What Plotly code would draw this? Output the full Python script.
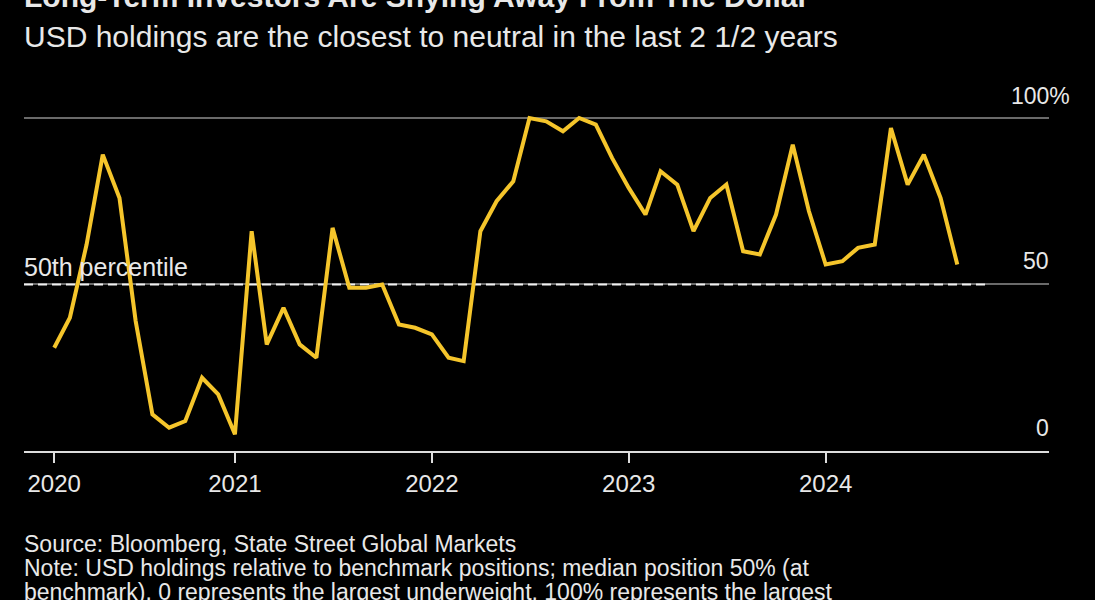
import pandas as pd
import plotly.graph_objects as go

# Monthly data, Feb 2020 .. Sep 2024
start_month = "2020-02-01"
usd_holdings = [
    31, 40, 62, 89, 76, 39, 11, 7, 9, 22, 17, 5,
    66, 32, 43, 32, 28, 67, 49, 49, 50, 38, 37, 35,
    28, 27, 66, 75, 81, 100, 99, 96, 100, 98, 88, 79,
    71, 84, 80, 66, 76, 80, 60, 59, 71, 92, 72, 56,
    57, 61, 62, 97, 80, 89, 76, 56,
]
dates = pd.date_range(start_month, periods=len(usd_holdings), freq="MS")

percentile_value = 50
percentile_dates = ["2019-12-07", "2024-10-25"]

tick_dates = ["2020-02-01", "2021-01-01", "2022-01-01", "2023-01-01", "2024-01-01"]
tick_labels = ["2020", "2021", "2022", "2023", "2024"]

y_labels = [(100, "100%"), (50, "50"), (0, "0")]

title = "Long-Term Investors Are Shying Away From The Dollar"
subtitle = "USD holdings are the closest to neutral in the last 2 1/2 years"
source = "Source: Bloomberg, State Street Global Markets"
note1 = "Note: USD holdings relative to benchmark positions; median position 50% (at"
note2 = "benchmark). 0 represents the largest underweight, 100% represents the largest"

FONT = "Liberation Sans, Arial, sans-serif"
TXT = "#e8e8e8"

fig = go.Figure()
fig.add_trace(go.Scatter(
    x=percentile_dates, y=[percentile_value] * 2, mode="lines",
    line=dict(color="#f0f0f0", width=2, dash="9px,5px"), hoverinfo="skip",
))
fig.add_trace(go.Scatter(
    x=dates, y=usd_holdings, mode="lines",
    line=dict(color="#F5C52B", width=4), hoverinfo="skip",
))

annotations = []
for val, lab in y_labels:
    if lab.endswith("%"):
        annotations.append(dict(x=1, xref="paper", y=val, yref="y", text=lab,
                                xanchor="left", yanchor="middle", xshift=-40, yshift=22,
                                showarrow=False, font=dict(size=23, color=TXT, family=FONT)))
    else:
        annotations.append(dict(x=1, xref="paper", y=val, yref="y", text=lab,
                                xanchor="right", yanchor="middle", xshift=2, yshift=23,
                                showarrow=False, font=dict(size=23, color=TXT, family=FONT)))

annotations.append(dict(x=0, xref="paper", y=percentile_value, yref="y", text="50th percentile",
                        xanchor="left", yanchor="middle", xshift=-2, yshift=17,
                        showarrow=False, font=dict(size=25, color=TXT, family=FONT)))

H = 353.0
def py(p):
    return (451 - p) / H

annotations += [
    dict(x=0, xref="paper", y=py(-4), yref="paper", text="<b>" + title + "</b>",
         xanchor="left", yanchor="middle", xshift=-2, showarrow=False,
         font=dict(size=30, color=TXT, family=FONT)),
    dict(x=0, xref="paper", y=py(36), yref="paper", text=subtitle,
         xanchor="left", yanchor="middle", xshift=-2, showarrow=False,
         font=dict(size=30, color=TXT, family=FONT)),
    dict(x=0, xref="paper", y=py(544), yref="paper", text=source,
         xanchor="left", yanchor="middle", xshift=-2, showarrow=False,
         font=dict(size=23, color=TXT, family=FONT)),
    dict(x=0, xref="paper", y=py(568), yref="paper", text=note1,
         xanchor="left", yanchor="middle", xshift=-2, showarrow=False,
         font=dict(size=23, color=TXT, family=FONT)),
    dict(x=0, xref="paper", y=py(592), yref="paper", text=note2,
         xanchor="left", yanchor="middle", xshift=-2, showarrow=False,
         font=dict(size=23, color=TXT, family=FONT)),
]

fig.update_layout(
    width=1095, height=600,
    margin=dict(l=24, r=46, t=98, b=149),
    paper_bgcolor="#000000", plot_bgcolor="#000000",
    showlegend=False,
    annotations=annotations,
    xaxis=dict(
        type="date", range=["2019-12-07", "2025-02-18"],
        tickvals=tick_dates, ticktext=tick_labels,
        showgrid=False, zeroline=False,
        showline=True, linecolor="#dddddd", linewidth=2,
        ticks="outside", ticklen=10, tickwidth=1.5, tickcolor="#dddddd",
        tickfont=dict(size=24, color=TXT, family=FONT),
    ),
    yaxis=dict(
        range=[0, 106], tickvals=[50, 100], showticklabels=False,
        showgrid=True, gridcolor="#6a6a6a", gridwidth=1.5,
        zeroline=False, showline=False, ticks="",
    ),
)

fig.write_html(
    "out.html",
    config={"displayModeBar": False},
    post_script="document.body.style.margin='0';document.body.style.background='#000';",
)
